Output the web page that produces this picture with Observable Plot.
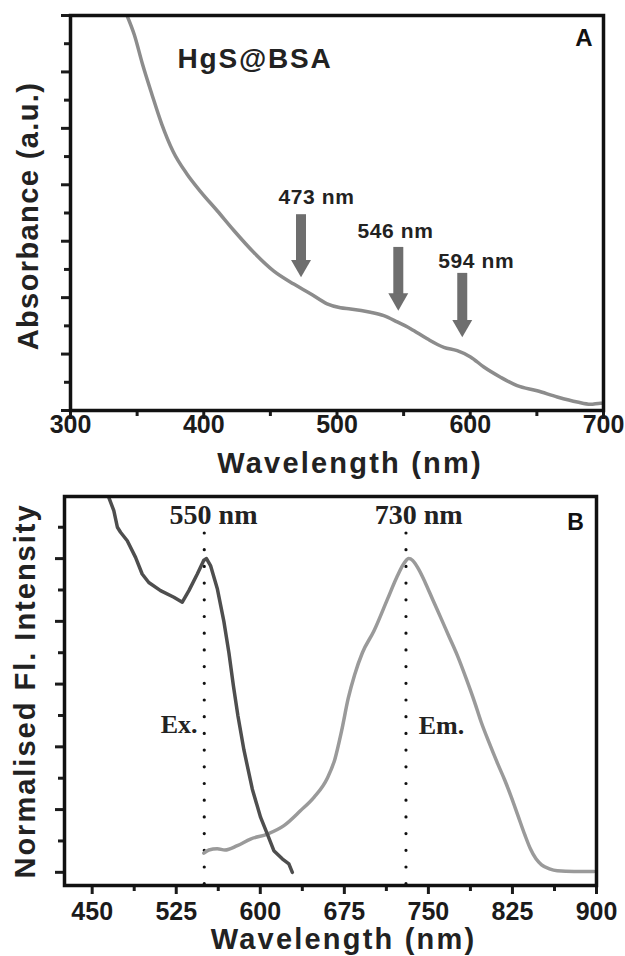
<!DOCTYPE html>
<html><head><meta charset="utf-8">
<script src="https://cdn.jsdelivr.net/npm/d3@7"></script>
<script src="https://cdn.jsdelivr.net/npm/@observablehq/plot@0.6"></script>
<style>
body{margin:0;background:#fff;}
#chart{width:625px;}
#chart svg{display:block;}
</style></head><body><div id="chart"></div>
<script>
// ---------- Panel A: absorbance ----------
const absWavelength = [342.4,348.0,354.0,361.0,368.4,377.0,387.1,397.6,410.1,422.6,437.6,452.6,467.6,480.1,492.6,502.6,510.1,525.1,535.1,545.2,555.2,567.7,580.2,590.2,600.2,610.2,622.7,635.2,650.2,665.3,680.3,690.2,697.7,700];
const absorbance    = [7.0,6.65,6.14,5.61,5.08,4.59,4.20,3.88,3.54,3.19,2.80,2.47,2.24,2.07,1.89,1.82,1.80,1.74,1.68,1.57,1.45,1.27,1.12,1.06,0.95,0.77,0.59,0.44,0.35,0.24,0.15,0.11,0.13,0.13];
const peakNm      = [473, 546, 594];
const peakText    = ["473 nm", "546 nm", "594 nm"];
const arrowStart  = [3.47, 2.89, 2.43];
const arrowEnd    = [2.36, 1.77, 1.30];
const peakLabelNm = [484.6, 543.9, 604.5];
const peakLabelY  = [3.77, 3.18, 2.65];
const xTicksA = [300, 400, 500, 600, 700];
const xMinorA = [350, 450, 550, 650];
const yTicksA = [0, 1, 2, 3, 4, 5, 6, 7];
const yMinorA = [0.5, 1.5, 2.5, 3.5, 4.5, 5.5, 6.5];

// ---------- Panel B: excitation / emission ----------
const exWavelength = [464.8,469.3,472.5,475.3,481.3,488.7,494.6,500.5,511.0,522.9,530.4,536.3,543.8,549.6,552.0,555.6,561.6,567.5,572.0,576.0,580.0,585.4,592.9,600.3,606.3,612.1,619.6,625.5,628.6];
const exIntensity  = [1.195,1.153,1.10,1.084,1.057,1.004,0.951,0.924,0.898,0.877,0.861,0.898,0.951,0.995,1.0,0.978,0.905,0.800,0.700,0.595,0.500,0.390,0.265,0.175,0.122,0.069,0.043,0.027,0.0];
const emWavelength = [549.6,554.1,561.6,568.5,579.5,591.3,606.3,621.1,636.0,647.9,659.8,666.5,672.5,678.5,684.2,691.1,701.5,713.4,721.7,728.8,732.4,736.0,741.0,747.0,754.0,761.0,768.0,776.0,784.0,791.0,797.0,804.0,812.0,818.0,824.0,830.0,836.0,841.0,846.0,851.0,858.0,865.0,880.0,897.9];
const emIntensity  = [0.061,0.071,0.075,0.071,0.085,0.106,0.122,0.149,0.197,0.239,0.300,0.36,0.45,0.555,0.63,0.700,0.770,0.870,0.940,0.988,1.0,0.994,0.968,0.925,0.868,0.812,0.755,0.690,0.615,0.545,0.480,0.415,0.345,0.295,0.240,0.180,0.120,0.075,0.043,0.024,0.011,0.005,0.003,0.003];
const peakB      = [550, 730];
const peakBText  = ["550 nm", "730 nm"];
const peakBLabel = [558.3, 741.3];
const xTicksB = [450, 525, 600, 675, 750, 825, 900];
const xMinorB = [487.5, 562.5, 637.5, 712.5, 787.5, 862.5];
const yTicksB = [0, 0.2, 0.4, 0.6, 0.8, 1.0];
const yMinorB = [0.1, 0.3, 0.5, 0.7, 0.9, 1.1];

const sans = "'Liberation Sans', Arial, Helvetica, sans-serif";
const serif = "'Liberation Serif', 'Times New Roman', serif";
const ink = "#1b1b1b";

const absData = absWavelength.map((wl, i) => ({wl, a: absorbance[i]}));
const arrows = peakNm.map((nm, i) => ({nm, top: arrowStart[i], tip: arrowEnd[i], label: peakText[i], lx: peakLabelNm[i], ly: peakLabelY[i]}));
const exData = exWavelength.map((wl, i) => ({wl, v: exIntensity[i]}));
const emData = emWavelength.map((wl, i) => ({wl, v: emIntensity[i]}));
const peaksB = peakB.map((nm, i) => ({nm, label: peakBText[i], lx: peakBLabel[i]}));

const blank = () => "";

const A = Plot.plot({
  width: 625, height: 484,
  marginLeft: 70, marginRight: 22, marginTop: 15, marginBottom: 74,
  style: {fontFamily: sans, fontWeight: "bold", color: ink, background: "#fff", overflow: "visible"},
  x: {domain: [300, 700], label: null},
  y: {domain: [0, 7], label: null},
  marks: [
    Plot.axisX({ticks: xMinorA, tickSize: 6, strokeWidth: 3, tickFormat: blank, label: null}),
    Plot.axisX({ticks: xTicksA, tickSize: 9, tickPadding: -4, strokeWidth: 3, fontSize: 25, label: null}),
    Plot.axisY({ticks: yMinorA, tickSize: 6, strokeWidth: 3, tickFormat: blank, label: null}),
    Plot.axisY({ticks: yTicksA, tickSize: 9, strokeWidth: 3, tickFormat: blank, label: null}),
    Plot.line(absData, {x: "wl", y: "a", stroke: "#8c8c8c", strokeWidth: 3.5, curve: "monotone-x", clip: true}),
    Plot.ruleX(arrows, {x: "nm", y1: "top", y2: "tip", stroke: "#6e6e6e", strokeWidth: 10, insetBottom: 15}),
    Plot.dot(arrows, {x: "nm", y: "tip", symbol: "triangle", r: 7.4, rotate: 180, dy: -11.5, fill: "#6e6e6e", stroke: null}),
    Plot.text(arrows, {x: "lx", y: "ly", text: "label", fontSize: 21, fill: "#222"}),
    Plot.text(["HgS@BSA"], {frameAnchor: "top-left", textAnchor: "start", lineAnchor: "top", dx: 107, dy: 33, fontSize: 28, fill: "#222"}),
    Plot.text(["A"], {frameAnchor: "top-right", textAnchor: "end", lineAnchor: "top", dx: -11, dy: 13, fontSize: 24, fill: "#111"}),
    Plot.text(["Wavelength (nm)"], {frameAnchor: "bottom", textAnchor: "middle", lineAnchor: "top", dx: 13, dy: 42, fontSize: 29, fill: "#222"}),
    Plot.text(["Absorbance (a.u.)"], {frameAnchor: "left", textAnchor: "middle", rotate: -90, lineAnchor: "middle", dx: -42, dy: 3, fontSize: 29, fill: "#222"}),
    Plot.frame({stroke: "#111", strokeWidth: 3.5})
  ]
});

const B = Plot.plot({
  width: 625, height: 472,
  marginLeft: 64, marginRight: 29, marginTop: 12, marginBottom: 71,
  style: {fontFamily: sans, fontWeight: "bold", color: ink, background: "#fff", overflow: "visible"},
  x: {domain: [425.3, 900], label: null},
  y: {domain: [-0.042, 1.198], label: null},
  marks: [
    Plot.axisX({ticks: xMinorB, tickSize: 6, strokeWidth: 3, tickFormat: blank, label: null}),
    Plot.axisX({ticks: xTicksB, tickSize: 9, tickPadding: 8, strokeWidth: 3, fontSize: 25, label: null}),
    Plot.axisY({ticks: yMinorB, tickSize: 6, strokeWidth: 3, tickFormat: blank, label: null}),
    Plot.axisY({ticks: yTicksB, tickSize: 9, strokeWidth: 3, tickFormat: blank, label: null}),
    Plot.ruleX(peaksB, {x: "nm", y1: 1.08, y2: -0.042, stroke: "#111", strokeWidth: 3.2, strokeDasharray: "0,16.7", strokeLinecap: "round"}),
    Plot.line(emData, {x: "wl", y: "v", stroke: "#9a9a9a", strokeWidth: 3.5, curve: "monotone-x", clip: true}),
    Plot.line(exData, {x: "wl", y: "v", stroke: "#4e4e4e", strokeWidth: 3.5, clip: true}),
    Plot.text(peaksB, {x: "lx", y: 1.14, text: "label", fontFamily: serif, fontSize: 28, fill: "#222"}),
    Plot.text(["Ex."], {x: [544], y: [0.471], textAnchor: "end", fontFamily: serif, fontSize: 26, fill: "#222"}),
    Plot.text(["Em."], {x: [741.3], y: [0.468], textAnchor: "start", fontFamily: serif, fontSize: 26, fill: "#222"}),
    Plot.text(["B"], {frameAnchor: "top-right", textAnchor: "end", lineAnchor: "top", dx: -12.7, dy: 17, fontSize: 23, fill: "#111"}),
    Plot.text(["Wavelength (nm)"], {frameAnchor: "bottom", textAnchor: "middle", lineAnchor: "top", dx: 13, dy: 43, fontSize: 29, fill: "#222"}),
    Plot.text(["Normalised Fl. Intensity"], {frameAnchor: "left", textAnchor: "middle", rotate: -90, lineAnchor: "middle", dx: -39, dy: 0, fontSize: 29, fill: "#222"}),
    Plot.frame({stroke: "#111", strokeWidth: 3.5})
  ]
});

const chart = document.getElementById("chart");
chart.appendChild(A);
chart.appendChild(B);

// letter spacing for the wide-set titles
const spacing = {"Wavelength (nm)": "2.2px", "Absorbance (a.u.)": "1.4px", "Normalised Fl. Intensity": "2px", "HgS@BSA": "1.8px", "473 nm": "0.6px", "546 nm": "0.6px", "594 nm": "0.6px"};
d3.selectAll("#chart svg text").each(function() {
  const s = spacing[this.textContent];
  if (s) this.style.letterSpacing = s;
});
</script>
</body></html>
